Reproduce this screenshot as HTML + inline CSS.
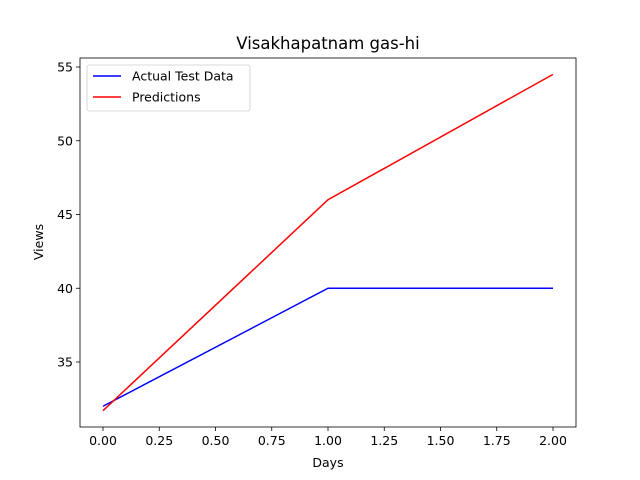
<!DOCTYPE html>
<html><head><meta charset="utf-8"><style>
body{margin:0;background:#fff;}
svg{display:block;font-family:"DejaVu Sans","Liberation Sans",sans-serif;}
</style></head><body>
<svg id="chart" width="640" height="480"></svg>
<script>
const days = [0, 1, 2];
const actualValues = [32, 40, 40];
const predictionValues = [31.7, 46.0, 54.5];
const xTicks = [0, 0.25, 0.5, 0.75, 1.0, 1.25, 1.5, 1.75, 2.0];
const xTickLabels = ["0.00","0.25","0.50","0.75","1.00","1.25","1.50","1.75","2.00"];
const yTicks = [35, 40, 45, 50, 55];
const yTickLabels = ["35","40","45","50","55"];

const NS = "http://www.w3.org/2000/svg";
const svg = document.getElementById('chart');
const L = 80, R = 576, T = 58, B = 427;
function xs(v){ return 103 + v * 225; }
function ys(v){ return 67 + (55 - v) * 14.75; }
function mk(tag, attrs, parent){
  const e = document.createElementNS(NS, tag);
  for (const k in attrs) e.setAttribute(k, attrs[k]);
  (parent || svg).appendChild(e);
  return e;
}
const title = mk('text', {x:328, y:49, 'text-anchor':'middle', 'font-size':16.5});
title.textContent = 'Visakhapatnam gas-hi';



xTicks.forEach((t, i) => {
  const g = mk('g', {});
  
  
  mk('line', {x1:xs(t), x2:xs(t), y1:B, y2:B+4, stroke:'#000', 'stroke-width':0.8}, g);
  const tx = mk('text', {x:xs(t), y:B+18, 'text-anchor':'middle', 'font-size':12.5}, g);
  tx.textContent = xTickLabels[i];
});
yTicks.forEach((t, i) => {
  const g = mk('g', {});
  
  
  mk('line', {x1:L-4, x2:L, y1:ys(t), y2:ys(t), stroke:'#000', 'stroke-width':0.8}, g);
  const tx = mk('text', {x:L-7, y:ys(t)+4.5, 'text-anchor':'end', 'font-size':12.5}, g);
  tx.textContent = yTickLabels[i];
});

function series(vals, color, name){
  const p = mk('polyline', {points: vals.map((v,i)=>xs(days[i])+','+ys(v)).join(' '), fill:'none', stroke:color, 'stroke-width':1.5});
  
  
}
series(actualValues, '#0000ff', 'actual-test-data-line');
series(predictionValues, '#ff0000', 'predictions-line');

const frame = mk('rect', {x:L, y:T, width:R-L, height:B-T, fill:'none', stroke:'#000', 'stroke-width':0.8});



const xl = mk('text', {x:328, y:467, 'text-anchor':'middle', 'font-size':12.5});
xl.textContent = 'Days';


const yl = mk('text', {x:0, y:0, 'text-anchor':'middle', 'font-size':12.5, transform:'translate(43,242) rotate(-90)'});
yl.textContent = 'Views';



const lg = mk('g', {});


mk('rect', {x:87, y:65, width:163, height:46, rx:2, fill:'#fff', stroke:'#ccc', 'stroke-width':0.8}, lg);
[['Actual Test Data','#0000ff',76],['Predictions','#ff0000',97]].forEach(([n,c,y])=>{
  const e = mk('g', {}, lg);
  
  
  mk('line', {x1:93, x2:121, y1:y, y2:y, stroke:c, 'stroke-width':1.5}, e);
  const t = mk('text', {x:132, y:y+4.5, 'font-size':12.5}, e);
  t.textContent = n;
});
</script>
</body></html>
